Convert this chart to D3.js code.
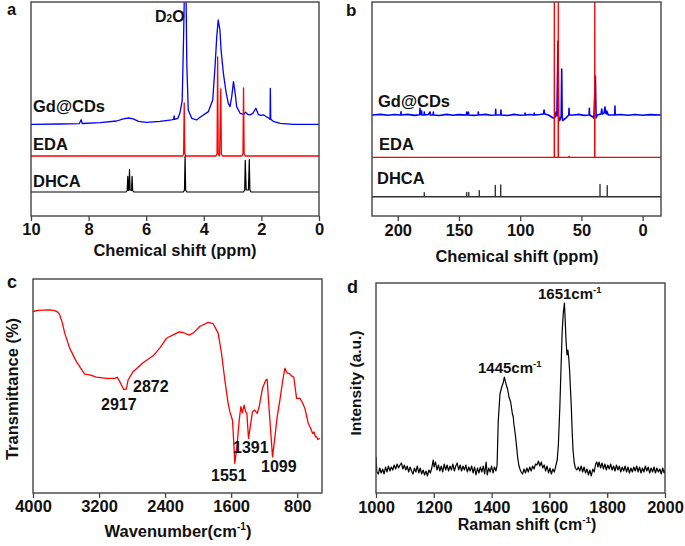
<!DOCTYPE html>
<html><head><meta charset="utf-8">
<script src="https://cdn.jsdelivr.net/npm/d3@7"></script>
<style>
body{margin:0;background:#fff;}
svg{display:block;font-family:"Liberation Sans",Arial,sans-serif;font-weight:bold;}
</style></head><body>
<svg id="fig" width="685" height="546"></svg>
<script>
// ---------- Panel a: 1H NMR (ppm, intensity) ----------
const hnmrTicks = [10, 8, 6, 4, 2, 0];
const hnmrLabels = ["Gd@CDs", "EDA", "DHCA"];
const hnmrOffsets = [91.7, 60, 24];
const hnmrGd = [[10,0],[9.0,0.3],[8.32,0.7],[8.26,4.5],[8.22,0.8],[7.6,1.7],[7.03,3.3],[6.79,5.5],[6.62,6.3],[6.45,5.5],[6.27,3.0],[5.98,2.0],[5.52,3.0],[5.12,4.5],[5.05,5],[5.03,8.5],[5.01,5],[4.90,6],[4.83,11],[4.75,24],[4.70,90],[4.67,140],[4.62,140],[4.59,60],[4.54,14.3],[4.42,6],[4.25,4.3],[4.13,7],[3.84,12.7],[3.69,24.3],[3.61,57.7],[3.55,87.7],[3.50,104.3],[3.44,94.3],[3.40,74.3],[3.32,51],[3.23,32.7],[3.15,21],[3.09,17.7],[3.03,27.7],[2.97,42.7],[2.91,31],[2.86,17.7],[2.74,11],[2.62,10],[2.55,12],[2.48,10],[2.40,9.5],[2.30,11],[2.19,16],[2.11,10],[2.02,9],[1.93,9.5],[1.85,8],[1.74,6],[1.70,5],[1.69,36],[1.675,5],[1.59,3],[1.35,1],[0.89,0],[0,0]];
const hnmrEda = [[10,0],[4.74,0],[4.70,2],[4.68,53],[4.66,2],[4.62,0],[3.58,0],[3.54,2],[3.52,99],[3.50,2],[3.46,0],[3.45,2],[3.41,67],[3.39,2],[3.35,0],[2.68,0],[2.64,2],[2.62,68],[2.60,2],[2.56,0],[0,0]];
const hnmrDhca = [[10,0],[6.70,0],[6.66,1.5],[6.64,15.7],[6.62,1.5],[6.60,2],[6.58,22.3],[6.56,2],[6.51,1.5],[6.49,15.7],[6.47,1.5],[6.43,0],[4.71,0],[4.67,2],[4.65,36],[4.63,2],[4.59,0],[2.62,0],[2.58,2],[2.56,31.7],[2.53,2],[2.45,2],[2.42,32.3],[2.40,2],[2.36,0],[0,0]];

// ---------- Panel b: 13C NMR (ppm, intensity) ----------
const cnmrTicks = [200, 150, 100, 50, 0];
const cnmrOffsets = [101, 58.7, 19.3];
const cnmrGd = [[221,0],[214,0.6],[208,-0.3],[203,0.5],[197.5,0],[197.3,3.3],[197.1,0],[192,0.6],[186,-0.4],[182,0.3],[181.8,6.7],[181.5,0.5],[180.5,4],[180.3,0],[178.4,0],[178.3,3],[178.1,0],[175,0.5],[173.6,3],[173.4,0],[171.1,0],[170.9,3],[170.7,0],[166,-0.5],[160,0.6],[155,-0.3],[150,0.4],[143.8,0],[143.7,3],[143.5,0],[142.4,0],[142.3,3],[142.1,0],[138,-0.4],[134.3,0],[134.2,3],[134.0,0],[128,0.6],[124,-0.3],[120.2,0],[120,5.7],[119.8,0],[115.9,0],[115.7,5],[115.5,0],[110,-0.5],[105,0.6],[100,-0.3],[96.2,0],[96,2],[95.8,0],[92,0.5],[88.7,0],[88.5,2],[88.3,0],[84,0.5],[81,1],[80.5,5],[80,1],[77,0],[73,-3],[71.5,-2],[70.7,3],[70,-1],[69.1,74],[68.6,-1],[67.8,-5.7],[66.5,-1],[66.1,46],[65.7,-2],[65.3,-5.5],[62,-2.3],[60.3,0],[60.1,6.7],[59.9,0],[56.6,0],[52,0.6],[48,-0.4],[43.7,0],[43.5,6.7],[43.3,0],[40.5,-2],[39.8,-3.3],[38.6,39],[38,-3],[37,0],[34,1],[33.4,6],[33,1],[31.5,2],[30.7,8],[30.2,2],[29.5,1],[29.3,4],[28,0],[22.8,0],[22.6,9],[22.4,0],[18,0.5],[12,-0.3],[6,0.5],[0,-0.3],[-6,0.4],[-15,0]];
const cnmrEda = [[221,0],[72.2,0],[72.1,170],[72.0,0],[69.0,0],[68.9,170],[68.8,0],[60.3,0],[60.1,1.2],[59.9,0],[39.2,0],[39.1,170],[39.0,0],[-15,0]];
const cnmrDhca = [[221,0],[178.3,0],[178.3,4],[178.3,0],[143.7,0],[143.7,4.3],[143.7,0],[142.0,0],[142.0,4.3],[142.0,0],[133.4,0],[133.4,6],[133.4,0],[120.3,0],[120.3,11.3],[120.3,0],[115.9,0],[115.9,11.7],[115.9,0],[34.8,0],[34.8,12.3],[34.8,0],[28.9,0],[28.9,11],[28.9,0],[-15,0]];

// ---------- Panel c: FTIR (wavenumber, transmittance) ----------
const ftirTicks = [4000, 3200, 2400, 1600, 800];
const ftir = [[4000,84.8],[3940,85.3],[3879,85.5],[3800,85.6],[3737,85.2],[3700,84.5],[3677,83.3],[3645,79.5],[3616,74.7],[3556,67.7],[3475,61.4],[3374,55.6],[3313,55.2],[3232,54.1],[3111,53.6],[3010,53.6],[2982,54.1],[2955,52.5],[2929,50.5],[2901,48.4],[2869,48.6],[2849,52.8],[2788,56.7],[2667,60.9],[2546,64.1],[2465,67.7],[2384,72.3],[2303,73.9],[2230,75.3],[2182,75.0],[2109,73.8],[2061,74.7],[1980,77.8],[1879,79.7],[1818,79.1],[1758,74.7],[1717,65.3],[1677,52.8],[1637,41.9],[1616,38.0],[1584,34],[1568,23],[1556,13.8],[1527,23],[1503,34],[1483,40.3],[1465,37.5],[1443,41.1],[1425,38],[1410,37.2],[1390,25.5],[1366,31.7],[1342,38],[1317,38.8],[1285,37.2],[1261,40.3],[1221,48.9],[1180,52.8],[1164,53.1],[1140,38.8],[1099,16.9],[1071,26],[1043,35.6],[1010,43.4],[978,52],[950,58.3],[921,56],[897,55.9],[869,54.7],[841,54.1],[808,44.2],[768,44.2],[740,42.5],[707,39.5],[667,32.5],[640,30.5],[614,27.8],[596,28.5],[580,26.2],[566,26.3],[550,25],[525,25.5]];
const ftirPeaks = [2917, 2872, 1551, 1391, 1099];

// ---------- Panel d: Raman (shift, intensity) ----------
const ramanTicks = [1000, 1200, 1400, 1600, 1800, 2000];
const raman = [[1000,36],[1003,21],[1008,19],[1013,25],[1018,20],[1023,24],[1028,19],[1033,26],[1038,21],[1043,27],[1048,22],[1053,26],[1058,23],[1063,28],[1068,24],[1073,29],[1078,25],[1083,28],[1088,30],[1093,24],[1098,28],[1103,23],[1108,27],[1113,21],[1118,26],[1123,22],[1128,19],[1133,25],[1138,21],[1143,27],[1148,20],[1153,25],[1158,19],[1163,23],[1168,18],[1173,22],[1178,17],[1183,23],[1188,20],[1193,25],[1198,33],[1201,26],[1206,31],[1211,23],[1216,28],[1221,22],[1226,27],[1231,21],[1236,29],[1241,23],[1246,28],[1251,22],[1256,27],[1261,23],[1266,29],[1271,22],[1276,27],[1281,30],[1286,23],[1291,28],[1296,22],[1301,27],[1306,23],[1311,28],[1316,21],[1321,26],[1326,22],[1331,27],[1336,20],[1341,26],[1346,18],[1351,25],[1356,20],[1361,26],[1366,21],[1371,27],[1376,19],[1381,31],[1385,18],[1390,25],[1395,21],[1400,27],[1405,20],[1410,26],[1415,22],[1419,28],[1423,72],[1429,99],[1435,106],[1440,110],[1444,116],[1448,111],[1452,107],[1456,103],[1460,96],[1466,91],[1469,85],[1472,79],[1475,76],[1477,69],[1480,63],[1483,56],[1487,45],[1490,36],[1494,28],[1498,24],[1502,21],[1507,19],[1512,24],[1517,20],[1522,25],[1527,21],[1532,26],[1537,22],[1542,27],[1547,24],[1552,29],[1557,28],[1562,32],[1567,27],[1572,31],[1577,25],[1582,28],[1587,22],[1592,27],[1597,20],[1602,25],[1607,19],[1612,24],[1617,21],[1622,27],[1627,33],[1631,48],[1636,85],[1640,123],[1644,160],[1648,180],[1652,190],[1655,170],[1658,150],[1661,138],[1664,143],[1667,135],[1670,122],[1673,103],[1676,85],[1679,60],[1682,42],[1686,30],[1690,25],[1695,23],[1700,26],[1705,22],[1710,27],[1715,21],[1720,26],[1725,20],[1730,24],[1735,18],[1740,23],[1745,17],[1750,24],[1755,21],[1760,29],[1764,31],[1768,26],[1772,31],[1777,25],[1782,30],[1787,24],[1792,29],[1797,23],[1802,28],[1807,24],[1812,29],[1817,23],[1822,27],[1827,22],[1832,28],[1837,23],[1842,27],[1847,21],[1852,26],[1857,22],[1862,27],[1867,21],[1872,26],[1877,20],[1882,25],[1887,21],[1892,26],[1897,22],[1902,27],[1907,21],[1912,26],[1917,20],[1922,25],[1927,21],[1932,27],[1937,22],[1942,26],[1947,20],[1952,25],[1957,21],[1962,26],[1967,20],[1972,25],[1977,21],[1982,24],[1987,19],[1992,25],[1997,20],[2000,23]];
const ramanPeaks = [1445, 1651];

// ---------- drawing ----------
const FONT = "Liberation Sans, Arial, sans-serif";
const svg = d3.select("#fig");
let clipN = 0;

function makePanel(box, xDomain, yDomain, ticks, pad) {
  const x = d3.scaleLinear().domain(xDomain).range([box.l, box.r]);
  const y = d3.scaleLinear().domain(yDomain).range([box.b, box.t]);
  const id = "clip" + (++clipN);
  svg.append("clipPath").attr("id", id).append("rect")
    .attr("x", box.l).attr("y", box.t).attr("width", box.r - box.l).attr("height", box.b - box.t);
  const ax = svg.append("g").attr("transform", `translate(0,${box.b})`)
    .call(d3.axisBottom(x).tickValues(ticks).tickSize(5).tickPadding(pad).tickFormat(d3.format("d")));
  ax.select(".domain").remove();
  ax.attr("font-family", FONT).attr("font-size", 16.5).attr("font-weight", "bold");
  ax.selectAll("text").attr("fill", "#111");
  ax.selectAll("line").attr("stroke", "#444").attr("stroke-width", 1.3);
  const plot = svg.append("g").attr("clip-path", `url(#${id})`);
  return { x, y, plot, box };
}
function frame(P) {
  const b = P.box;
  svg.append("rect").attr("x", b.l).attr("y", b.t).attr("width", b.r - b.l).attr("height", b.b - b.t)
    .attr("fill", "none").attr("stroke", "#444").attr("stroke-width", 1.4);
}
function trace(P, data, offset, color, width) {
  P.plot.append("path").datum(data)
    .attr("d", d3.line().x(d => P.x(d[0])).y(d => P.y(d[1] + offset)))
    .attr("fill", "none").attr("stroke", color).attr("stroke-width", width)
    .attr("stroke-linejoin", "round");
}
function label(x, y, txt, size, anchor) {
  return svg.append("text").attr("x", x).attr("y", y).attr("font-size", size)
    .attr("text-anchor", anchor || "start").attr("fill", "#111").text(txt);
}
function cmTitle(x, y, pre, size) {
  const t = svg.append("text").attr("font-size", size).attr("fill", "#111").attr("text-anchor", "middle")
    .attr("x", x).attr("y", y);
  t.append("tspan").text(pre);
  t.append("tspan").attr("font-size", size * 0.62).attr("dy", -size * 0.42).text("-1");
  t.append("tspan").attr("dy", size * 0.42).text(")");
  return t;
}

// Panel a
const A = makePanel({ l: 31, r: 319, t: 2, b: 216 }, [10, 0], [0, 214], hnmrTicks, 2);
trace(A, hnmrGd, hnmrOffsets[0], "#0000ff", 1.3);
trace(A, hnmrEda, hnmrOffsets[1], "#ff0000", 1.3);
trace(A, hnmrDhca, hnmrOffsets[2], "#000000", 1.2);
frame(A);
label(33, 112, hnmrLabels[0], 16.5);
label(33, 150, hnmrLabels[1], 16.5);
label(33, 187, hnmrLabels[2], 16.5);
const d2o = svg.append("text").attr("x", 155).attr("y", 22).attr("font-size", 16).attr("fill", "#111");
d2o.append("tspan").text("D");
d2o.append("tspan").attr("font-size", 10).text("2");
d2o.append("tspan").text("O");
label(175, 256, "Chemical shift (ppm)", 16.5, "middle");
label(7, 15, "a", 16.5);

// Panel b
const B = makePanel({ l: 372, r: 661, t: 2, b: 216 }, [221, -15], [0, 214], cnmrTicks, 3);
trace(B, cnmrGd, cnmrOffsets[0], "#0000ff", 1.6);
trace(B, cnmrEda, cnmrOffsets[1], "#ff0000", 1.3);
trace(B, cnmrDhca, cnmrOffsets[2], "#333333", 1.4);
frame(B);
label(378, 107, hnmrLabels[0], 16.5);
label(379, 150, hnmrLabels[1], 16.5);
label(377, 184, hnmrLabels[2], 16.5);
label(517, 262, "Chemical shift (ppm)", 16.5, "middle");
label(346, 16, "b", 17);

// Panel c
const C = makePanel({ l: 33, r: 322, t: 279, b: 493 }, [4000, 500], [0, 100], ftirTicks, 2);
trace(C, ftir, 0, "#ff0000", 1.3);
frame(C);
const ftirLabelPos = [[101, 410], [133, 392], [211, 481], [233, 453], [261, 472]];
ftirPeaks.forEach((p, i) => label(ftirLabelPos[i][0], ftirLabelPos[i][1], String(p), 16));
cmTitle(178, 537, "Wavenumber(cm", 16.5);
svg.append("text").attr("transform", "translate(18,389) rotate(-90)")
  .attr("text-anchor", "middle").attr("font-size", 16.5).attr("fill", "#111").text("Transmittance (%)");
label(7, 288, "c", 18);

// Panel d
const D = makePanel({ l: 376, r: 665, t: 283, b: 493 }, [1000, 2000], [0, 210], ramanTicks, 3);
trace(D, raman, 0, "#000000", 1.2);
frame(D);
const ramanLabelPos = [[478, 373], [538, 299]];
ramanPeaks.forEach((p, i) => {
  const t = svg.append("text").attr("x", ramanLabelPos[i][0]).attr("y", ramanLabelPos[i][1])
    .attr("font-size", 15).attr("fill", "#111");
  t.append("tspan").text(p + "cm");
  t.append("tspan").attr("font-size", 9.5).attr("dy", -6).text("-1");
});
cmTitle(527, 530, "Raman shift (cm", 16);
svg.append("text").attr("transform", "translate(361,383) rotate(-90)")
  .attr("text-anchor", "middle").attr("font-size", 15.5).attr("fill", "#111").text("Intensity (a.u.)");
label(347, 293, "d", 18);
</script>
</body></html>
